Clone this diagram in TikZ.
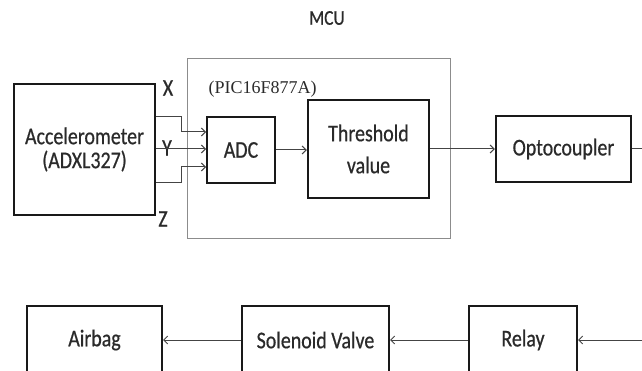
\documentclass[tikz,border=0pt]{standalone}
\usepackage{fontspec}
\setsansfont[FakeStretch=0.83,FakeBold=0.6]{Carlito}
\newfontfamily\serifb{Liberation Serif}
\usetikzlibrary{arrows.meta}
\definecolor{txt}{HTML}{2A2A2A}
\definecolor{ln}{HTML}{444444}
\begin{document}
\begin{tikzpicture}[x=1pt,y=-1pt,
  lbl/.style={font=\sffamily\fontsize{24}{24}\selectfont, text=txt},
  box/.style={draw=black!90, line width=2.2pt, lbl, align=center, inner sep=0pt},
  arr/.style={draw=ln, line width=1pt, -{Straight Barb[length=4pt,width=8pt]}},
  wire/.style={draw=ln, line width=1pt}]
\useasboundingbox (0,0) rectangle (642,371);
\clip (0,0) rectangle (642,371);
% MCU
\node[lbl, font=\sffamily\fontsize{21}{23}\selectfont] (mcu) at (327,18) {MCU};
\draw[draw=black!45, line width=1pt] (187,59) rectangle (450,239);
\node[font=\serifb\fontsize{18}{20}\selectfont, text=txt, anchor=west] (pic) at (205,89) {(PIC16F877A)};
% blocks
\node[box, minimum width=141, minimum height=131] (acc) at (84.5,149.5) {Accelerometer\\(ADXL327)};
\node[box, line width=2pt, minimum width=68, minimum height=66] (adc) at (241,150) {ADC};
\node[box, line width=2.5pt, minimum width=121, minimum height=98] (thr) at (368.5,149) {Threshold\\[8pt]value};
\node[box, line width=2.5pt, minimum width=135, minimum height=66] (opto) at (563.5,149) {Optocoupler};
\node[box, line width=2pt, minimum width=135, minimum height=68] (air) at (94.5,340) {Airbag};
\node[box, line width=2pt, minimum width=147, minimum height=68] (sol) at (315.5,340) {Solenoid Valve};
\node[box, line width=2pt, minimum width=108, minimum height=68] (rel) at (523,340) {Relay};
% axis labels
\node[lbl] (xl) at (168,88) {X};
\node[lbl] (yl) at (167,148) {Y};
\node[lbl] (zl) at (163,219) {Z};
% connectors
\draw[arr] (acc.east |- 0,117) -- (181,117) -- (181,132) -- (adc.west |- 0,132);
\draw[arr] (acc.east |- 0,149) -- (adc.west |- 0,149);
\draw[arr] (acc.east |- 0,183) -- (181,183) -- (181,167) -- (adc.west |- 0,167);
\draw[arr] (adc.east) -- (thr.west |- adc.east);
\draw[arr] (thr.east) -- (opto.west);
\coordinate (oend) at (650,149);
\draw[wire] (opto.east) -- (oend);
\coordinate (rstart) at (650,340);
\draw[arr] (rstart) -- (rel.east);
\draw[arr] (rel.west) -- (sol.east);
\draw[arr] (sol.west) -- (air.east);
\end{tikzpicture}
\end{document}
